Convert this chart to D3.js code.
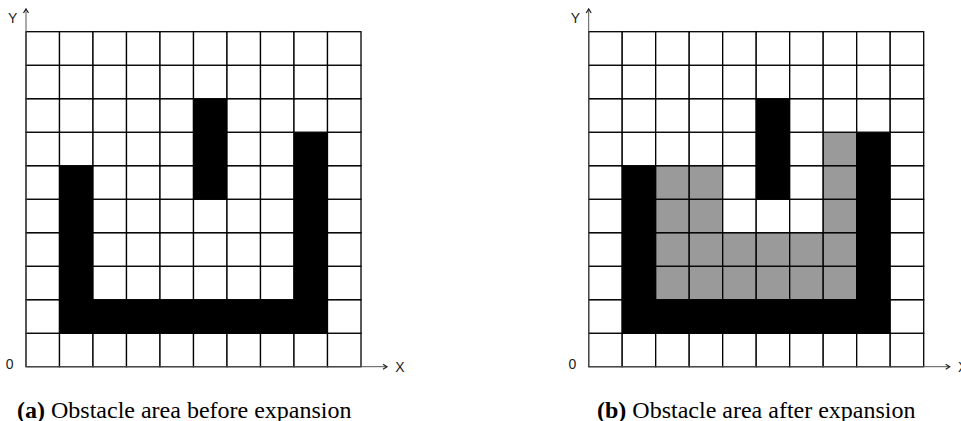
<!DOCTYPE html>
<html><head><meta charset="utf-8">
<script src="https://cdn.jsdelivr.net/npm/d3@7"></script>
<style>html,body{margin:0;padding:0;background:#fff;}svg{display:block;}
.cap{font-family:'Liberation Serif','Times New Roman','DejaVu Serif',serif;}
.lab{font-family:'Liberation Sans',Arial,'DejaVu Sans',sans-serif;}
</style>
</head><body>
<svg id="chart" width="961" height="421"></svg>
<script>
// ---- data ----
const gridN = 10;
const axisLabels = ["X", "Y", "0"];
const captions = [
  {tag: "(a)", text: " Obstacle area before expansion"},
  {tag: "(b)", text: " Obstacle area after expansion"}
];
// obstacle cells [col, row], row 0 = bottom
const obstacleCells = [
  [1,1],[2,1],[3,1],[4,1],[5,1],[6,1],[7,1],[8,1],
  [1,2],[1,3],[1,4],[1,5],
  [8,2],[8,3],[8,4],[8,5],[8,6],
  [5,5],[5,6],[5,7]
];
// cells added by expansion (panel b)
const expandedCells = [
  [2,2],[3,2],[4,2],[5,2],[6,2],[7,2],
  [2,3],[3,3],[4,3],[5,3],[6,3],[7,3],
  [2,4],[3,4],[7,4],
  [2,5],[3,5],[7,5],
  [7,6]
];

// ---- layout ----
const svg = d3.select("#chart");
const panels = [
  {x0: 26, cap: captions[0], capX: 17, expanded: []},
  {x0: 588.7, cap: captions[1], capX: 597, expanded: expandedCells}
];
const gridTop = 31.7, gridSize = 335;

panels.forEach(p => {
  const g = svg.append("g");
  const x = d3.scaleLinear().domain([0, gridN]).range([p.x0, p.x0 + gridSize]);
  const y = d3.scaleLinear().domain([0, gridN]).range([gridTop + gridSize, gridTop]);
  const key = (c, r) => c + "," + r;
  const obs = new Set(obstacleCells.map(d => key(d[0], d[1])));
  const exp = new Set(p.expanded.map(d => key(d[0], d[1])));
  const cells = [];
  for (let r = 0; r < gridN; r++) for (let c = 0; c < gridN; c++) {
    cells.push({c, r, t: obs.has(key(c, r)) ? "o" : exp.has(key(c, r)) ? "e" : "f"});
  }
  g.selectAll("rect.cell").data(cells).join("rect")
    .attr("class", "cell")
    .attr("x", d => x(d.c)).attr("y", d => y(d.r + 1))
    .attr("width", x(1) - x(0)).attr("height", y(0) - y(1))
    .attr("fill", d => d.t === "o" ? "#000" : d.t === "e" ? "#9a9a9a" : "#fff")
    .attr("stroke", "#000").attr("stroke-width", 1.3);

  // axes with arrows
  const ox = x(0), oy = y(0);
  const xe = x(gridN) + 26, ye = 9;
  g.append("line").attr("x1", ox).attr("y1", oy).attr("x2", xe).attr("y2", oy)
    .attr("stroke", "#555").attr("stroke-width", 1);
  g.append("line").attr("x1", ox).attr("y1", oy).attr("x2", ox).attr("y2", ye)
    .attr("stroke", "#555").attr("stroke-width", 1);
  g.append("path").attr("d", `M${xe-4},${oy-2.5} L${xe},${oy} L${xe-4},${oy+2.5}`)
    .attr("fill", "none").attr("stroke", "#222").attr("stroke-width", 1.2);
  g.append("path").attr("d", `M${ox-2.5},${ye+4} L${ox},${ye} L${ox+2.5},${ye+4}`)
    .attr("fill", "none").attr("stroke", "#222").attr("stroke-width", 1.2);

  const fs = 14;
  g.append("text").attr("class", "lab").text(axisLabels[0]).attr("x", xe + 13).attr("y", oy + 5)
    .attr("text-anchor", "middle").attr("font-size", fs).attr("fill", "#222");
  g.append("text").attr("class", "lab").text(axisLabels[1]).attr("x", ox - 13.3).attr("y", 23)
    .attr("text-anchor", "middle").attr("font-size", fs).attr("fill", "#222");
  g.append("text").attr("class", "lab").text(axisLabels[2]).attr("x", ox - 16.3).attr("y", oy + 2)
    .attr("text-anchor", "middle").attr("font-size", fs).attr("fill", "#222");

  const t = g.append("text").attr("class", "cap").attr("x", p.capX).attr("y", 417.5)
    .attr("font-size", 24).attr("fill", "#000");
  t.append("tspan").attr("font-weight", "bold").text(p.cap.tag);
  t.append("tspan").text(p.cap.text);
});
</script>
</body></html>
